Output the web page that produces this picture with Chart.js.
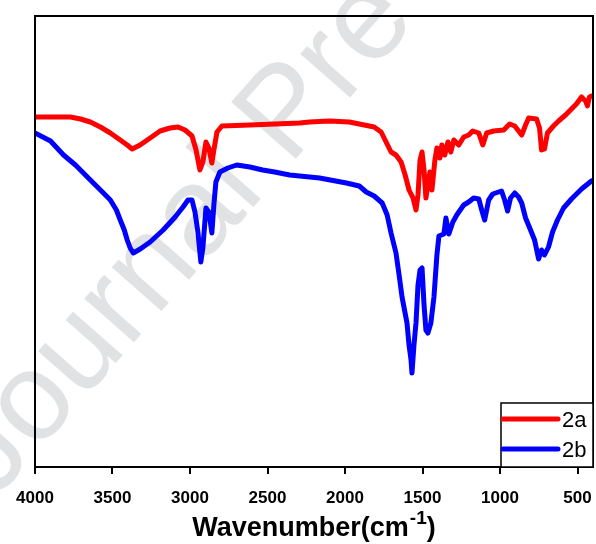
<!DOCTYPE html>
<html>
<head>
<meta charset="utf-8">
<script src="https://cdn.jsdelivr.net/npm/chart.js@4.4.1/dist/chart.umd.min.js"></script>
<style>
  html, body { margin: 0; padding: 0; background: #ffffff; }
  #wrap { width: 596px; height: 544px; }
</style>
</head>
<body>
<div id="wrap"><canvas id="c" width="596" height="544"></canvas></div>
<script>
// ---- Data (wavenumber in cm-1, transmittance in arbitrary %) ----
const seriesLabels = ['2a', '2b'];
const seriesColors = ['#ff0000', '#0000ff'];
const xTickValues = [4000, 3500, 3000, 2500, 2000, 1500, 1000, 500];
const axisTitle = 'Wavenumber(cm';
const axisTitleSup = '-1';
const axisTitleEnd = ')';
const watermarkText = 'Journal Pre-proof';

const waveA = [4000, 3771, 3707, 3643, 3578, 3514, 3450, 3405, 3373, 3322, 3257, 3193, 3129, 3077, 3032, 2987, 2961, 2936, 2917, 2897, 2878, 2859, 2846, 2826, 2794, 2614, 2454, 2293, 2229, 2100, 1972, 1876, 1812, 1767, 1735, 1703, 1671, 1638, 1612, 1587, 1561, 1542, 1529, 1516, 1503, 1490, 1478, 1465, 1452, 1439, 1420, 1407, 1388, 1375, 1356, 1336, 1317, 1298, 1266, 1234, 1202, 1176, 1137, 1111, 1086, 1041, 976, 938, 905, 880, 860, 835, 815, 764, 745, 732, 713, 694, 655, 622, 577, 539, 507, 474, 448, 436, 423, 410];
const transA = [70.0, 70.0, 69.6, 69.0, 68.0, 66.8, 65.4, 64.4, 63.6, 64.4, 65.8, 67.2, 67.8, 68.0, 67.4, 66.2, 63.4, 59.4, 61.0, 65.0, 63.8, 60.8, 63.4, 67.0, 68.2, 68.4, 68.6, 68.8, 69.0, 69.2, 69.0, 68.4, 68.0, 67.0, 65.0, 63.0, 62.4, 61.0, 58.4, 55.4, 53.8, 51.4, 54.4, 61.4, 63.0, 59.4, 53.8, 56.4, 59.0, 55.4, 61.4, 63.8, 61.8, 64.4, 62.4, 65.0, 63.0, 65.4, 64.4, 66.0, 66.4, 67.2, 66.8, 64.4, 66.8, 67.2, 67.4, 68.6, 68.2, 67.2, 66.4, 68.4, 69.8, 69.6, 67.8, 63.4, 63.6, 66.8, 68.2, 69.2, 70.4, 71.6, 72.6, 74.0, 73.2, 72.2, 74.0, 74.2];

const waveB = [4000, 3900, 3816, 3739, 3643, 3578, 3514, 3475, 3450, 3424, 3405, 3386, 3366, 3321, 3257, 3173, 3096, 3045, 3013, 2987, 2968, 2949, 2930, 2917, 2897, 2878, 2859, 2846, 2833, 2807, 2756, 2698, 2614, 2531, 2454, 2357, 2164, 1991, 1908, 1863, 1812, 1760, 1728, 1703, 1671, 1651, 1632, 1600, 1587, 1574, 1568, 1555, 1542, 1529, 1516, 1503, 1490, 1478, 1465, 1446, 1426, 1407, 1394, 1362, 1349, 1330, 1304, 1279, 1234, 1202, 1170, 1137, 1118, 1099, 1073, 1047, 1009, 990, 970, 951, 932, 905, 880, 860, 835, 803, 777, 751, 732, 713, 687, 661, 629, 590, 539, 474, 442, 410];
const transB = [66.8, 65.2, 62.4, 60.4, 57.4, 55.4, 53.4, 51.4, 49.4, 47.4, 45.4, 43.8, 42.8, 43.6, 45.0, 47.4, 50.0, 52.0, 53.4, 53.4, 51.0, 47.0, 41.0, 43.8, 51.8, 51.0, 46.8, 52.4, 57.0, 59.0, 59.8, 60.4, 60.0, 59.4, 59.0, 58.4, 57.8, 56.8, 56.2, 55.0, 54.2, 52.8, 50.4, 46.8, 42.8, 38.4, 34.0, 28.8, 24.4, 21.4, 18.8, 24.4, 28.8, 36.4, 39.4, 39.8, 32.4, 27.4, 26.8, 28.8, 34.0, 42.4, 46.2, 46.6, 49.8, 46.6, 49.0, 50.4, 52.4, 53.0, 53.8, 53.6, 51.4, 49.4, 53.4, 54.6, 55.0, 55.2, 53.4, 51.2, 53.8, 54.8, 54.0, 52.8, 49.8, 47.4, 45.4, 41.6, 43.4, 42.4, 44.0, 47.0, 49.4, 51.8, 53.6, 55.6, 56.4, 57.2];

const FONT = '"Liberation Sans", Arial, Helvetica, sans-serif';

const watermarkPlugin = {
  id: 'watermark',
  beforeDraw(chart) {
    const ctx = chart.ctx;
    ctx.save();
    ctx.translate(-5, 500);
    ctx.rotate(-48.6 * Math.PI / 180);
    ctx.font = '125px ' + FONT;
    ctx.fillStyle = '#e1e2e4';
    ctx.textBaseline = 'alphabetic';
    ctx.textAlign = 'left';
    ctx.fillText(watermarkText, 0, 0);
    ctx.restore();
  }
};

const framePlugin = {
  id: 'frame',
  afterDatasetsDraw(chart) {
    const a = chart.chartArea, ctx = chart.ctx;
    ctx.save();
    ctx.strokeStyle = '#000';
    ctx.lineWidth = 2;
    ctx.strokeRect(a.left, a.top, a.right - a.left, a.bottom - a.top);
    ctx.restore();
  }
};

const legendPlugin = {
  id: 'legendBox',
  afterDraw(chart) {
    const a = chart.chartArea, ctx = chart.ctx;
    const w = 92, h = 64;
    const left = a.right - w, top = a.bottom - h;
    ctx.save();
    ctx.fillStyle = '#fff';
    ctx.fillRect(left, top, w, h);
    ctx.strokeStyle = '#000';
    ctx.lineWidth = 1.5;
    ctx.strokeRect(left, top, w, h);
    chart.data.datasets.forEach((ds, i) => {
      const y = top + 16 + i * 30;
      ctx.strokeStyle = ds.borderColor;
      ctx.lineWidth = 5;
      ctx.lineCap = 'round';
      ctx.beginPath();
      ctx.moveTo(left + 2, y);
      ctx.lineTo(left + 57, y);
      ctx.stroke();
      ctx.fillStyle = '#000';
      ctx.font = '22px ' + FONT;
      ctx.textBaseline = 'middle';
      ctx.textAlign = 'left';
      ctx.fillText(ds.label, left + 61, y + 2);
    });
    ctx.restore();
  }
};

const titlePlugin = {
  id: 'xTitle',
  afterDraw(chart) {
    const a = chart.chartArea, ctx = chart.ctx;
    ctx.save();
    const mainFont = 'bold 27px ' + FONT;
    const supFont = 'bold 19px ' + FONT;
    ctx.font = mainFont;
    const w1 = ctx.measureText(axisTitle).width;
    const w3 = ctx.measureText(axisTitleEnd).width;
    ctx.font = supFont;
    const w2 = ctx.measureText(axisTitleSup).width;
    const total = w1 + w2 + w3 + 1;
    let x = (a.left + a.right) / 2 - total / 2;
    const base = 536;
    ctx.fillStyle = '#000';
    ctx.textBaseline = 'alphabetic';
    ctx.textAlign = 'left';
    ctx.font = mainFont;
    ctx.fillText(axisTitle, x, base);
    x += w1 + 1;
    ctx.font = supFont;
    ctx.fillText(axisTitleSup, x, base - 12);
    x += w2;
    ctx.font = mainFont;
    ctx.fillText(axisTitleEnd, x, base);
    ctx.restore();
  }
};

const makeData = (xs, ys) => xs.map((x, i) => ({ x: x, y: ys[i] }));

new Chart(document.getElementById('c'), {
  type: 'line',
  data: {
    datasets: [
      { label: seriesLabels[0], data: makeData(waveA, transA), borderColor: seriesColors[0],
        borderWidth: 5, pointRadius: 0, tension: 0, fill: false,
        borderJoinStyle: 'round', borderCapStyle: 'round' },
      { label: seriesLabels[1], data: makeData(waveB, transB), borderColor: seriesColors[1],
        borderWidth: 5, pointRadius: 0, tension: 0, fill: false,
        borderJoinStyle: 'round', borderCapStyle: 'round' }
    ]
  },
  options: {
    responsive: false,
    animation: false,
    devicePixelRatio: 1,
    layout: { padding: { left: 35, right: 3, top: 16, bottom: 37 } },
    plugins: { legend: { display: false }, tooltip: { enabled: false } },
    scales: {
      x: {
        type: 'linear',
        reverse: true,
        min: 400,
        max: 4000,
        afterBuildTicks: (s) => { s.ticks = xTickValues.map(v => ({ value: v })); },
        afterFit: (s) => { s.height = 40; s.paddingLeft = 0; s.paddingRight = 0; },
        ticks: {
          color: '#000',
          font: { family: FONT, size: 17, weight: 'bold' },
          padding: 14,
          maxRotation: 0,
          autoSkip: false,
          callback: (v) => String(v)
        },
        grid: { display: true, drawOnChartArea: false, drawTicks: true, tickLength: 7, color: '#000', lineWidth: 2 },
        border: { display: true, color: '#000', width: 2 }
      },
      y: { display: false, min: 0, max: 90.2 }
    }
  },
  plugins: [watermarkPlugin, framePlugin, legendPlugin, titlePlugin]
});
</script>
</body>
</html>
